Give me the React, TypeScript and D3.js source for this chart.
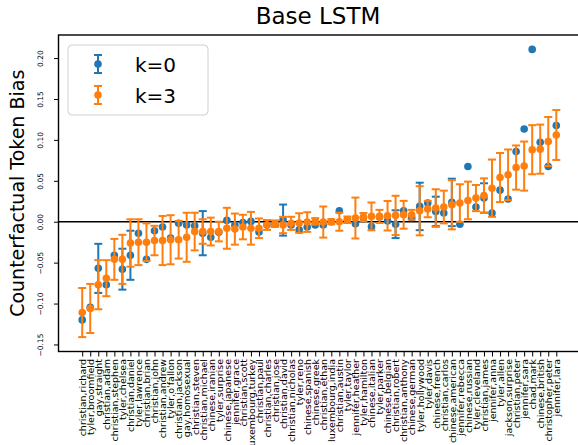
import React, { useEffect, useRef } from "react";
import * as d3 from "d3";

const categories = [
  "christian,richard", "tyler,broomfield", "gay,straight", "christian,adam", "christian,stephen",
  "tyler,chelsea", "christian,daniel", "tyler,lawrence", "christian,brian", "christian,john",
  "christian,andrew", "tyler,o'fallon", "christian,jackson", "gay,homosexual", "christian,steven",
  "christian,michael", "chinese,iranian", "tyler,surprise", "chinese,japanese", "jennifer,grace",
  "christian,scott", "luxembourg,turkey", "christian,paul", "christian,charles", "christian,jose",
  "christian,david", "christian,nicholas", "tyler,reno", "chinese,spanish", "chinese,greek",
  "christian,ethan", "luxembourg,india", "christian,austin", "tyler,taylor", "jennifer,heather",
  "tyler,hamilton", "chinese,italian", "tyler,parker", "chinese,belgian", "christian,robert",
  "christian,anthony", "chinese,german", "tyler,hollywood", "tyler,davis", "chinese,french",
  "christian,carlos", "chinese,american", "jennifer,rebecca", "chinese,russian", "tyler,cleveland",
  "christian,james", "jennifer,anna", "tyler,allen", "jackson,surprise", "christian,peter",
  "jennifer,sara", "chad,mark", "chinese,british", "christopher,peter", "jennifer,lara",
];

const k0Values = [
  -0.12, -0.1045, -0.057, -0.077, -0.041, -0.058, -0.041, -0.014, -0.046, -0.011,
  -0.0065, -0.02, -0.002, -0.004, -0.005, -0.014, -0.019, -0.013, 0.0016, -0.004,
  -0.001, 0.0004, -0.0126, -0.004, -0.003, 0.002, -0.004, -0.01, -0.0065, -0.004,
  -0.004, 0.0, 0.0134, 0.002, -0.0024, 0.005, -0.006, 0.0057, 0.001, -0.003,
  0.0134, 0.005, 0.0187, 0.0228, 0.0126, 0.0106, 0.0236, -0.003, 0.0675, 0.018,
  0.029, 0.0106, 0.0386, 0.0277, 0.0857, 0.1134, 0.2106, 0.097, 0.0675, 0.1175,
];

const k0Errors = [
  0, 0, 0.03, 0, 0, 0.025, 0.03, 0, 0, 0,
  0, 0, 0, 0, 0, 0.027, 0, 0, 0, 0,
  0, 0, 0, 0, 0, 0.019, 0, 0, 0, 0,
  0, 0, 0, 0, 0, 0, 0, 0, 0, 0.017,
  0, 0, 0.029, 0, 0.018, 0, 0.029, 0, 0, 0,
  0.018, 0, 0, 0, 0, 0, 0, 0, 0, 0,
];

const k3Values = [
  -0.111, -0.106, -0.077, -0.069, -0.046, -0.046, -0.026, -0.025, -0.025, -0.023,
  -0.023, -0.022, -0.022, -0.019, -0.012, -0.012, -0.012, -0.012, -0.008, -0.009,
  -0.0065, -0.008, -0.008, -0.004, -0.0024, -0.004, -0.002, -0.0016, -0.0004, 0.0004,
  -0.0004, 0.0, 0.0, 0.0024, 0.0045, 0.0057, 0.0065, 0.0065, 0.0073, 0.0077,
  0.0085, 0.0085, 0.0134, 0.0155, 0.0167, 0.018, 0.0207, 0.0228, 0.026, 0.0289,
  0.032, 0.041, 0.054, 0.0573, 0.0662, 0.068, 0.088, 0.0887, 0.098, 0.106,
];

const k3Errors = [
  0.03, 0.03, 0.03, 0.022, 0.025, 0.03, 0.029, 0.028, 0.023, 0.018,
  0.03, 0.03, 0.023, 0.03, 0.023, 0.015, 0.017, 0.012, 0.025, 0.019,
  0.015, 0.02, 0.012, 0.006, 0.004, 0.01, 0.008, 0.012, 0.012, 0.004,
  0.019, 0.003, 0.011, 0.004, 0.025, 0.005, 0.017, 0.008, 0.018, 0.024,
  0.017, 0.006, 0.03, 0.01, 0.023, 0.02, 0.03, 0.023, 0.023, 0.016,
  0.021, 0.035, 0.03, 0.031, 0.027, 0.03, 0.03, 0.03, 0.03, 0.0305,
];

const yTicks = [-0.15, -0.1, -0.05, 0.0, 0.05, 0.1, 0.15, 0.2];

const series = [
  { name: "k=0", values: k0Values, errors: k0Errors, color: "#1f77b4" },
  { name: "k=3", values: k3Values, errors: k3Errors, color: "#ff7f0e" },
];

export default function App() {
  const svgRef = useRef<SVGSVGElement | null>(null);

  useEffect(() => {
    const width = 578;
    const height = 445;
    const margin = { top: 35, right: -2, bottom: 93.5, left: 58.5 };

    const svg = d3.select(svgRef.current);
    svg.selectAll("*").remove();
    svg.attr("width", width).attr("height", height);

    const x = d3
      .scalePoint<string>()
      .domain(categories)
      .range([margin.left, width - margin.right])
      .padding(2.95);

    const y = d3
      .scaleLinear()
      .domain([-0.1586, 0.2282])
      .range([height - margin.bottom, margin.top]);

    const font = "DejaVu Sans, sans-serif";

    // zero line
    svg
      .append("line")
      .attr("x1", margin.left)
      .attr("x2", width)
      .attr("y1", y(0))
      .attr("y2", y(0))
      .attr("stroke", "#000")
      .attr("stroke-width", 1.6);

    // error bars + points
    series.forEach((s) => {
      const g = svg.append("g");
      const capW = 4;
      categories.forEach((c, i) => {
        const cx = x(c)!;
        const v = s.values[i];
        const e = s.errors[i];
        if (e > 0) {
          g.append("line")
            .attr("x1", cx).attr("x2", cx)
            .attr("y1", y(v - e)).attr("y2", y(v + e))
            .attr("stroke", s.color).attr("stroke-width", 2);
          [v - e, v + e].forEach((yy) => {
            g.append("line")
              .attr("x1", cx - capW).attr("x2", cx + capW)
              .attr("y1", y(yy)).attr("y2", y(yy))
              .attr("stroke", s.color).attr("stroke-width", 2);
          });
        }
        g.append("circle")
          .attr("cx", cx)
          .attr("cy", y(v))
          .attr("r", 3.8)
          .attr("fill", s.color);
      });
    });

    // spines
    svg
      .append("rect")
      .attr("x", margin.left)
      .attr("y", margin.top)
      .attr("width", width - margin.right - margin.left)
      .attr("height", height - margin.bottom - margin.top)
      .attr("fill", "none")
      .attr("stroke", "#000")
      .attr("stroke-width", 1.4);

    // y axis
    const yAxis = svg
      .append("g")
      .attr("transform", `translate(${margin.left},0)`)
      .call(d3.axisLeft(y).tickValues(yTicks).tickSize(4.5));
    yAxis.select(".domain").remove();
    yAxis.selectAll(".tick line").attr("stroke", "#000").attr("stroke-width", 1);
    yAxis
      .selectAll<SVGTextElement, number>(".tick text")
      .attr("x", 0)
      .attr("y", 0)
      .attr("dy", 0)
      .attr("text-anchor", "middle")
      .attr("transform", "translate(-15.5,0) rotate(-90)")
      .style("font-family", font)
      .style("font-size", "7.5px")
      .text((d) => (d as number).toFixed(2).replace("-", "\u2212"));

    // x axis
    const xAxis = svg
      .append("g")
      .attr("transform", `translate(0,${height - margin.bottom})`)
      .call(d3.axisBottom(x).tickSize(5));
    xAxis.select(".domain").remove();
    xAxis.selectAll(".tick line").attr("stroke", "#000").attr("stroke-width", 1);
    xAxis
      .selectAll(".tick text")
      .attr("x", 0)
      .attr("y", 0)
      .attr("dy", "0.35em")
      .attr("text-anchor", "end")
      .attr("transform", "translate(0,7.5) rotate(-90)")
      .style("font-family", font)
      .style("font-size", "9.5px");

    // title
    svg
      .append("text")
      .attr("x", 318)
      .attr("y", 24)
      .attr("text-anchor", "middle")
      .style("font-family", font)
      .style("font-size", "23px")
      .text("Base LSTM");

    // y label
    svg
      .append("text")
      .attr("transform", `translate(24,${(margin.top + height - margin.bottom) / 2}) rotate(-90)`)
      .attr("text-anchor", "middle")
      .style("font-family", font)
      .style("font-size", "19px")
      .text("Counterfactual Token Bias");

    // legend
    const lg = svg.append("g").attr("transform", "translate(68,45)");
    lg.append("rect")
      .attr("width", 140)
      .attr("height", 70)
      .attr("rx", 4)
      .attr("fill", "#fff")
      .attr("fill-opacity", 0.8)
      .attr("stroke", "#d0d0d0")
      .attr("stroke-width", 1);
    series.forEach((s, i) => {
      const cy = 19 + i * 31;
      const cx = 30;
      lg.append("line")
        .attr("x1", cx).attr("x2", cx)
        .attr("y1", cy - 9).attr("y2", cy + 9)
        .attr("stroke", s.color).attr("stroke-width", 2);
      [cy - 9, cy + 9].forEach((yy) =>
        lg.append("line")
          .attr("x1", cx - 4).attr("x2", cx + 4)
          .attr("y1", yy).attr("y2", yy)
          .attr("stroke", s.color).attr("stroke-width", 2)
      );
      lg.append("circle").attr("cx", cx).attr("cy", cy).attr("r", 3.8).attr("fill", s.color);
      lg.append("text")
        .attr("x", 67)
        .attr("y", cy + 7.5)
        .style("font-family", font)
        .style("font-size", "20px")
        .text(s.name);
    });
  }, []);

  return (
    <div style={{ position: "absolute", left: 0, top: 0, width: 578, height: 445, background: "#fff" }}>
      <svg ref={svgRef} style={{ display: "block" }} />
    </div>
  );
}
